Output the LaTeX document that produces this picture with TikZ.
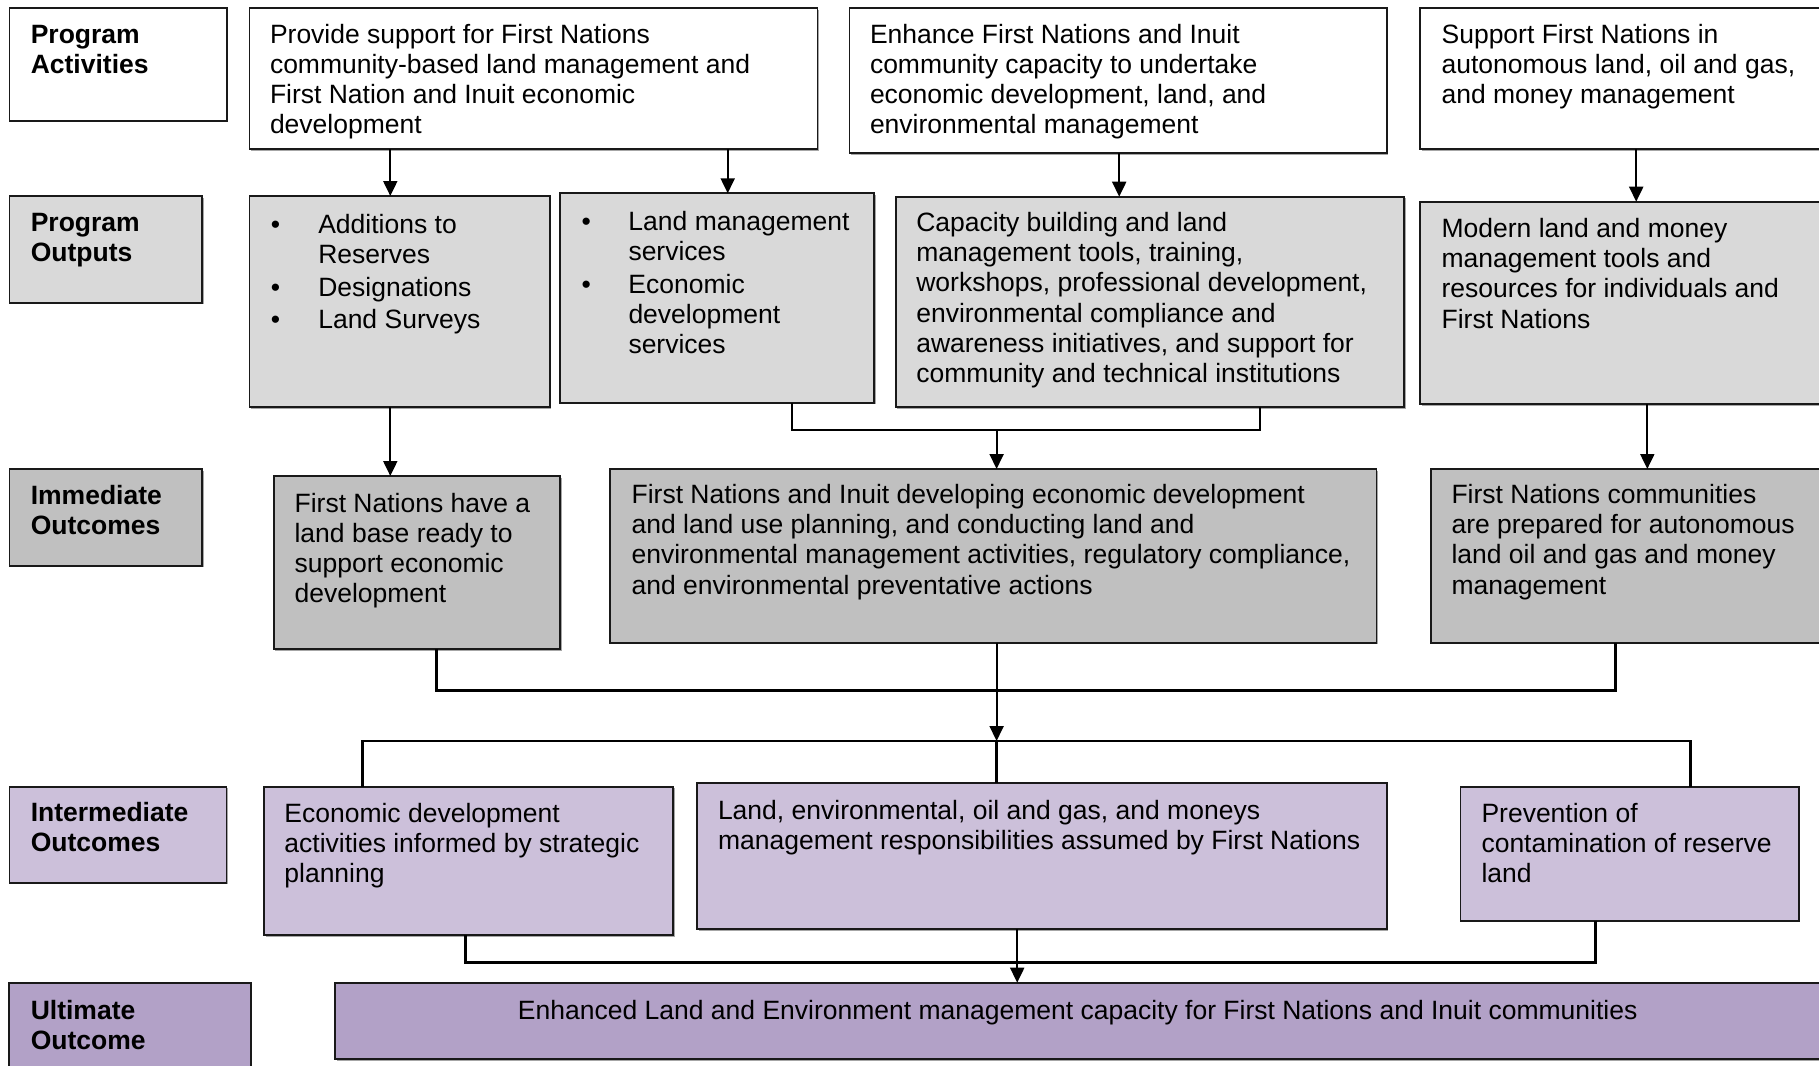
\documentclass[tikz,border=0pt]{standalone}
\usepackage{fontspec}
\setmainfont{Liberation Sans}
\usetikzlibrary{arrows.meta,shadows}
\definecolor{cOut}{RGB}{217,217,217}
\definecolor{cImm}{RGB}{192,192,192}
\definecolor{cInt}{RGB}{204,192,218}
\definecolor{cUlt}{RGB}{178,161,199}
\definecolor{cEdge}{RGB}{25,25,25}
\newcommand\mkbox[6]{\node[bx,fill=#2,minimum width={(#5)-(#3)},minimum height={(#6)-(#4)}] (#1) at (#3,#4) {};}
\begin{document}
\begin{tikzpicture}[x=1pt,y=-1pt,
  bx/.style={draw=cEdge, line width=1.8pt, rectangle, inner sep=0pt, outer sep=0pt, anchor=north west,
    drop shadow={shadow xshift=1.6pt, shadow yshift=-1.6pt, fill=black!35, opacity=1}},
  tx/.style={anchor=north west, inner sep=0pt, outer sep=0pt, align=left, font=\fontsize{26.5}{30.2}\selectfont},
  lb/.style={tx, font=\fontsize{26.5}{30.2}\selectfont\bfseries},
  ln/.style={line width=2pt, line join=miter},
  thk/.style={line width=2.8pt, line join=miter},
  arr/.style={line width=2pt, -{Triangle[length=15pt,width=14pt]}},
]
\useasboundingbox (0,0) rectangle (1819,1065);
\fill[white] (0,0) rectangle (1819,1065);
\clip (0,0) rectangle (1819,1065);

% row 1: activities
\mkbox{pal}{white}{9.5}{8}{226.6}{120.7}
\mkbox{act1}{white}{249.5}{8}{817.5}{149.3}
\mkbox{act2}{white}{849.5}{8}{1386.7}{153.3}
\mkbox{act3}{white}{1420.3}{8}{1835}{149.3}
% row 2: outputs
\mkbox{pol}{cOut}{9.5}{196}{202}{302.7}
\mkbox{out1}{cOut}{249.5}{196}{549.6}{407.3}
\mkbox{out2}{cOut}{560}{193.3}{874}{402.7}
\mkbox{out3}{cOut}{895.8}{196.7}{1404}{407.3}
\mkbox{out4}{cOut}{1420.3}{201.7}{1835}{404.3}
% row 3: immediate outcomes
\mkbox{iol}{cImm}{9.5}{469}{202}{565.7}
\mkbox{imm1}{cImm}{273.6}{476}{560.3}{649.3}
\mkbox{imm2}{cImm}{610.3}{469}{1376.5}{642.7}
\mkbox{imm3}{cImm}{1431}{469}{1835}{642.7}
% row 4: intermediate outcomes
\mkbox{intl}{cInt}{9.5}{786.7}{226.5}{882.7}
\mkbox{int1}{cInt}{264}{786.7}{673.2}{935}
\mkbox{int2}{cInt}{697}{783.3}{1386.6}{929}
\mkbox{int3}{cInt}{1460.5}{786.7}{1798.8}{920.7}
% row 5: ultimate outcome
\mkbox{uol}{cUlt}{9.3}{982.7}{250.7}{1080}
\mkbox{ult}{cUlt}{334.9}{982.7}{1835}{1059.3}

% texts
\node[lb] (tpal) at (30.8,22.2) {\strut Program\\Activities};
\node[tx] (tact1) at (270,22.2) {\strut Provide support for First Nations\\community-based land management and\\First Nation and Inuit economic\\development};
\node[tx] (tact2) at (870,22.2) {\strut Enhance First Nations and Inuit\\community capacity to undertake\\economic development, land, and\\environmental management};
\node[tx] (tact3) at (1441.6,22.2) {\strut Support First Nations in\\autonomous land, oil and gas,\\and money management};

\node[lb] (tpol) at (30.8,210.6) {\strut Program\\Outputs};
\node[tx] (tout1) at (270.8,212.2) {\strut\makebox[47.5pt][l]{\textbullet}Additions to\\\hspace*{47.5pt}Reserves\\[2.5pt]\makebox[47.5pt][l]{\textbullet}Designations\\[2.5pt]\makebox[47.5pt][l]{\textbullet}Land Surveys};
\node[tx] (tout2) at (581.5,209.4) {\strut\makebox[47pt][l]{\textbullet}Land management\\\hspace*{47pt}services\\[2.5pt]\makebox[47pt][l]{\textbullet}Economic\\\hspace*{47pt}development\\\hspace*{47pt}services};
\node[tx] (tout3) at (916.3,210.4) {\strut Capacity building and land\\management tools, training,\\workshops, professional development,\\environmental compliance and\\awareness initiatives, and support for\\community and technical institutions};
\node[tx] (tout4) at (1441.6,216.4) {\strut Modern land and money\\management tools and\\resources for individuals and\\First Nations};

\node[lb] (tiol) at (30.8,482.9) {\strut Immediate\\Outcomes};
\node[tx] (timm1) at (294.6,491.1) {\strut First Nations have a\\land base ready to\\support economic\\development};
\node[tx] (timm2) at (631.6,482.4) {\strut First Nations and Inuit developing economic development\\and land use planning, and conducting land and\\environmental management activities, regulatory compliance,\\and environmental preventative actions};
\node[tx] (timm3) at (1451.5,482.4) {\strut First Nations communities\\are prepared for autonomous\\land oil and gas and money\\management};

\node[lb] (tintl) at (30.8,799.9) {\strut Intermediate\\Outcomes};
\node[tx] (tint1) at (284.4,800.9) {\strut Economic development\\activities informed by strategic\\planning};
\node[tx] (tint2) at (718,797.9) {\strut Land, environmental, oil and gas, and moneys\\management responsibilities assumed by First Nations};
\node[tx] (tint3) at (1481.5,800.9) {\strut Prevention of\\contamination of reserve\\land};

\node[lb] (tuol) at (30.8,998.5) {\strut Ultimate\\Outcome};
\node[tx, anchor=north] (tult) at (1077.7,998.5) {\strut Enhanced Land and Environment management capacity for First Nations and Inuit communities};

% connectors
\draw[arr] (act1.south west) ++(140.8,0) coordinate (c1) -- (c1 |- out1.north);
\draw[arr] (act1.south west) ++(478.2,0) coordinate (c2) -- (c2 |- out2.north);
\draw[arr] (act2.south west) ++(269.7,0) coordinate (c3) -- (c3 |- out3.north);
\draw[arr] (act3.south west) ++(215.9,0) coordinate (c4) -- (c4 |- out4.north);
\draw[arr] (out1.south west) ++(140.8,0) coordinate (c5) -- (c5 |- imm1.north);

\coordinate (j1) at (996.6,430);
\draw[ln] (out2.south west) ++(231.8,0) |- (j1) -| ([xshift=364.2pt]out3.south west);
\draw[arr] (j1) -- (j1 |- imm2.north);
\draw[arr] (out4.south west) ++(227,0) coordinate (c7) -- (c7 |- imm3.north);

\coordinate (j2) at (996.6,690.7);
\draw[thk] (imm1.south west) ++(162.5,0) |- (j2) -| ([xshift=184.7pt]imm3.south west);
\coordinate (j3) at (996.6,741);
\draw[arr] (imm2.south -| j2) -- (j3);
\draw[thk] ([xshift=98.2pt]int1.north west) |- (j3) -| ([xshift=230.2pt]int3.north west);
\draw[thk] (j3) -- (j3 |- int2.north);

\coordinate (j4) at (1017.2,962.3);
\draw[thk] ([xshift=201.5pt]int1.south west) |- (j4) -| ([xshift=135.3pt]int3.south west);
\draw[arr] (int2.south -| j4) -- (j4 |- ult.north);
\end{tikzpicture}
\end{document}
